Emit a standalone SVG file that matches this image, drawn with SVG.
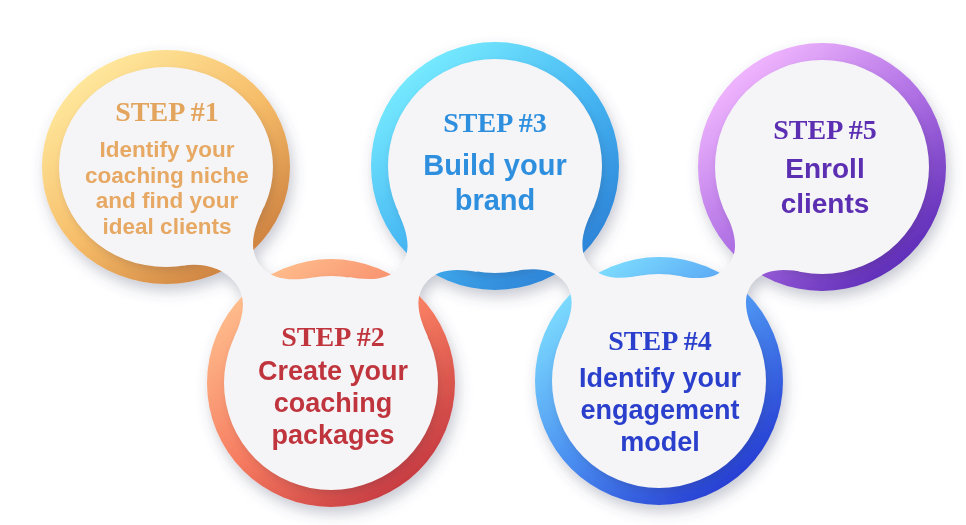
<svg xmlns="http://www.w3.org/2000/svg" xmlns:xlink="http://www.w3.org/1999/xlink" width="966" height="525" viewBox="0 0 966 525">
<defs>
<style>
.disc{fill:#f5f5f7}
.ish{fill:#2a2440;opacity:.16}
.step{font-family:"Liberation Serif","Times New Roman",serif;font-weight:700;font-size:28px;text-anchor:middle}
.body{font-family:"Liberation Sans",Arial,sans-serif;font-weight:700;text-anchor:middle}
.neck{fill:#f5f5f7}
</style>
<linearGradient id="g1" x1="0.15" y1="0.1" x2="0.85" y2="0.95"><stop offset="0" stop-color="#ffe99e"/><stop offset="0.5" stop-color="#f6bd69"/><stop offset="1" stop-color="#c97b3b"/></linearGradient>
<linearGradient id="g2" x1="0.15" y1="0.1" x2="0.85" y2="0.95"><stop offset="0" stop-color="#ffc08e"/><stop offset="0.5" stop-color="#f57a5f"/><stop offset="1" stop-color="#c1343e"/></linearGradient>
<linearGradient id="g3" x1="0.15" y1="0.1" x2="0.85" y2="0.95"><stop offset="0" stop-color="#78ecff"/><stop offset="0.5" stop-color="#46b6f2"/><stop offset="1" stop-color="#2a7dd4"/></linearGradient>
<linearGradient id="g4" x1="0.15" y1="0.1" x2="0.85" y2="0.95"><stop offset="0" stop-color="#7fe0ff"/><stop offset="0.5" stop-color="#4a8ef0"/><stop offset="1" stop-color="#2334cf"/></linearGradient>
<linearGradient id="g5" x1="0.15" y1="0.1" x2="0.85" y2="0.95"><stop offset="0" stop-color="#f3b8ff"/><stop offset="0.5" stop-color="#ae6fe3"/><stop offset="1" stop-color="#5525b3"/></linearGradient>
<filter id="sh" x="-10%" y="-10%" width="125%" height="130%"><feDropShadow dx="3" dy="7" stdDeviation="7" flood-color="#4a5070" flood-opacity="0.3"/></filter>
<filter id="bl" x="-20%" y="-20%" width="140%" height="140%"><feGaussianBlur stdDeviation="4"/></filter>
<path id="neckA" class="neck" d="M 94.5 50.2 C 103.9 32.5 115.5 15 135.5 15 C 155.5 15 167.1 32.5 176.5 50.2 L 176 0 L 176.5 -50.2 C 167.1 -32.5 155.5 -15 135.5 -15 C 115.5 -15 103.9 -32.5 94.5 -50.2 L 95 0 Z"/>
</defs>
<rect width="966" height="525" fill="#ffffff"/>
<g id="diagram" filter="url(#sh)">
<g id="step1">
<ellipse cx="166" cy="167" rx="124" ry="117" fill="url(#g1)"/>
<ellipse class="ish" cx="168" cy="171" rx="106" ry="99" filter="url(#bl)"/>
<ellipse class="disc" cx="166" cy="167" rx="107" ry="100"/>
<text class="step" x="167" y="121" fill="#e3a55d" font-size="27.5">STEP #1</text>
<text class="body" font-size="22.5" fill="#e6a862"><tspan x="167" y="157">Identify your</tspan><tspan x="167" y="182.5">coaching niche</tspan><tspan x="167" y="208">and find your</tspan><tspan x="167" y="233.5">ideal clients</tspan></text>
</g>
<g id="step2">
<circle cx="331" cy="383" r="124" fill="url(#g2)"/>
<circle class="ish" cx="333" cy="387" r="106" filter="url(#bl)"/>
<circle class="disc" cx="331" cy="383" r="107"/>
<text class="step" x="333" y="346" fill="#c0363e">STEP #2</text>
<text class="body" font-size="27" fill="#c0363e"><tspan x="333" y="380">Create your</tspan><tspan x="333" y="412">coaching</tspan><tspan x="333" y="444">packages</tspan></text>
</g>
<g id="step3">
<circle cx="495" cy="166" r="124" fill="url(#g3)"/>
<circle class="ish" cx="497" cy="170" r="106" filter="url(#bl)"/>
<circle class="disc" cx="495" cy="166" r="107"/>
<text class="step" x="495" y="132" fill="#2f8fdf">STEP #3</text>
<text class="body" font-size="29" fill="#2f8fdf"><tspan x="495" y="175">Build your</tspan><tspan x="495" y="210">brand</tspan></text>
</g>
<g id="step4">
<circle cx="659" cy="381" r="124" fill="url(#g4)"/>
<circle class="ish" cx="661" cy="385" r="106" filter="url(#bl)"/>
<circle class="disc" cx="659" cy="381" r="107"/>
<text class="step" x="660" y="350" fill="#2a3fcc">STEP #4</text>
<text class="body" font-size="27" fill="#2a3fcc"><tspan x="660" y="387">Identify your</tspan><tspan x="660" y="419">engagement</tspan><tspan x="660" y="451">model</tspan></text>
</g>
<g id="step5">
<circle cx="822" cy="167" r="124" fill="url(#g5)"/>
<circle class="ish" cx="824" cy="171" r="106" filter="url(#bl)"/>
<circle class="disc" cx="822" cy="167" r="107"/>
<text class="step" x="825" y="139" fill="#5b2eb2">STEP #5</text>
<text class="body" font-size="28" fill="#5b2eb2"><tspan x="825" y="178">Enroll</tspan><tspan x="825" y="213">clients</tspan></text>
</g>
<g id="connectors">
<path class="neck" transform="translate(166 167) rotate(52.62)" d="M 88.3 46.9 C 97.7 29.2 115 15 135 15 C 155 15 167.9 32.5 177.3 50.2 L 176.8 0 L 177.3 -50.2 C 167.9 -32.5 155 -15 135 -15 C 115 -15 102.8 -32 93.4 -49.7 L 95 0 Z"/>
<use xlink:href="#neckA" href="#neckA" transform="translate(331 383) rotate(-52.92) scale(1.0037 1)"/>
<use xlink:href="#neckA" href="#neckA" transform="translate(495 166) rotate(52.67) scale(0.9978 1)"/>
<use xlink:href="#neckA" href="#neckA" transform="translate(659 381) rotate(-52.7) scale(0.9926 1)"/>
</g>
</g>
</svg>
